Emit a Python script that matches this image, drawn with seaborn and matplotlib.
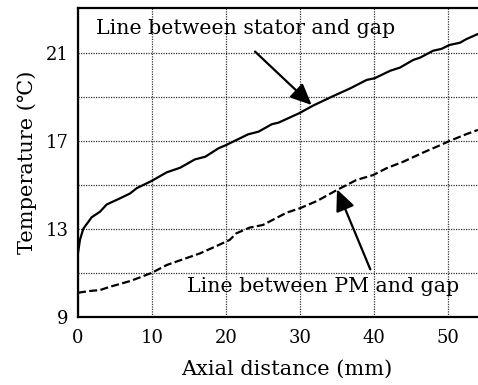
import matplotlib
matplotlib.use("Agg")
import matplotlib.pyplot as plt
import seaborn as sns
import pandas as pd

# Temperature along the axial direction
stator_x = [0, 0.27, 0.72, 1.85, 2.97, 3.87, 5.68, 7.03, 7.93, 9.95, 11.98, 13.8,
            15.8, 17.2, 18.96, 20.0, 23.0, 24.4, 26.2, 27.1, 29.9, 31.8, 34.5,
            36.8, 39.0, 40.1, 42.2, 43.5, 45.3, 46.2, 48.0, 49.1, 50.2, 51.6,
            52.5, 54.05]
stator_t = [11.9, 12.5, 13.0, 13.52, 13.77, 14.1, 14.38, 14.6, 14.84, 15.17, 15.56,
            15.77, 16.15, 16.27, 16.65, 16.8, 17.29, 17.41, 17.75, 17.82, 18.25,
            18.6, 19.03, 19.38, 19.76, 19.84, 20.18, 20.32, 20.67, 20.77, 21.09,
            21.17, 21.35, 21.45, 21.62, 21.85]

pm_x = [0, 1.62, 2.97, 4.32, 5.68, 7.03, 8.4, 10.0, 12.0, 14.2, 16.5, 18.7, 20.5,
        21.4, 23.2, 25.0, 28.2, 30.0, 32.3, 35.0, 37.6, 39.9, 41.7, 44.0, 46.7,
        48.5, 50.3, 52.5, 54.05]
pm_t = [10.09, 10.17, 10.21, 10.36, 10.49, 10.62, 10.79, 11.0, 11.35, 11.61, 11.88,
        12.21, 12.49, 12.79, 13.05, 13.17, 13.73, 13.93, 14.26, 14.76, 15.21,
        15.44, 15.75, 16.05, 16.47, 16.73, 17.0, 17.3, 17.49]

y_major = [9, 13, 17, 21]
y_minor = [11, 15, 19]
x_ticks = [0, 10, 20, 30, 40, 50]

sns.set_theme(style="white")
plt.rcParams["font.family"] = ["DejaVu Serif", "DejaVu Sans"]
plt.rcParams["font.size"] = 13

fig = plt.figure(figsize=(4.78, 3.85), dpi=100)
ax = fig.add_axes([78 / 478, 68.3 / 385, 1 - 78 / 478, 308.7 / 385])

df_s = pd.DataFrame({"x": stator_x, "t": stator_t})
df_p = pd.DataFrame({"x": pm_x, "t": pm_t})
sns.lineplot(data=df_s, x="x", y="t", ax=ax, color="black", lw=1.6,
             estimator=None, sort=False)
sns.lineplot(data=df_p, x="x", y="t", ax=ax, color="black", lw=1.6,
             estimator=None, sort=False, linestyle=(0, (3.6, 1.5)))

ax.set_xlim(0, 54.05)
ax.set_ylim(9, 23.03)
ax.set_xticks(x_ticks)
ax.set_yticks(y_major)
ax.set_yticks(y_minor, minor=True)
ax.grid(True, which="both", linestyle=(0, (1, 1)), color="#333333", lw=0.9)
ax.set_axisbelow(True)
ax.tick_params(axis="both", which="both", length=0, labelsize=13, colors="black")
ax.tick_params(axis="y", pad=7)
ax.tick_params(axis="x", pad=9)
for s in ax.spines.values():
    s.set_color("black")
    s.set_linewidth(1.6)
ax.spines["right"].set_visible(False)

ax.set_xlabel("Axial distance (mm)", fontsize=15, color="black")
ax.set_ylabel("Temperature (\u2103)", fontsize=15, color="black")
ax.xaxis.set_label_coords(0.522, -0.138)
ax.yaxis.set_label_coords(-0.102, 0.5)

arrow = dict(arrowstyle="-|>,head_length=1.0,head_width=0.45",
             color="black", lw=1.6, shrinkA=0, shrinkB=0)
ax.text(22.6, 22.1, "Line between stator and gap", ha="center", va="center",
        fontsize=14.8, color="black")
ax.annotate("", xy=(31.58, 18.62), xytext=(23.92, 21.05), arrowprops=arrow)
ax.text(14.7, 10.36, "Line between PM and gap", ha="left", va="center",
        fontsize=14.8, color="black")
ax.annotate("", xy=(35.0, 14.79), xytext=(39.5, 11.15), arrowprops=arrow)

fig.savefig("out.png", dpi=100)
